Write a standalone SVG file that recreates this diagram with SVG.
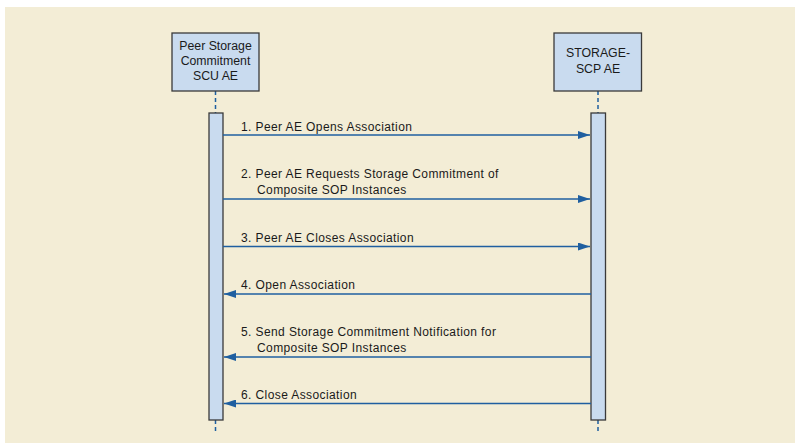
<svg xmlns="http://www.w3.org/2000/svg" width="795" height="443" viewBox="0 0 795 443">
<defs>
<style>
.bg{fill:#f3edd6}
.node rect{fill:#c9dbef;stroke:#3a3a3a;stroke-width:1.3}
.bar{fill:#c9dbef;stroke:#3a3a3a;stroke-width:1.3}
.life{stroke:#1f5fa0;stroke-width:1.5;stroke-dasharray:4,3;fill:none}
.msg{stroke:#1f5fa0;stroke-width:1.5;fill:none}
.nt{font-family:"Liberation Sans",Arial,sans-serif;font-size:12.3px;fill:#1a1a1a;text-anchor:middle}
.lt{font-family:"Liberation Sans",Arial,sans-serif;font-size:12px;letter-spacing:0.4px;fill:#1a1a1a}
</style>
<marker id="ah" viewBox="0 0 12 8" refX="12" refY="4" markerWidth="12" markerHeight="8" markerUnits="userSpaceOnUse" orient="auto">
<path d="M0,0 L12,4 L0,8 Z" fill="#1f5fa0"/>
</marker>
</defs>
<rect class="bg" x="5" y="7" width="790" height="436"/>
<g id="lifelines">
<line class="life" x1="215.5" y1="91" x2="215.5" y2="113"/>
<line class="life" x1="215.5" y1="420" x2="215.5" y2="432"/>
<line class="life" x1="598" y1="91" x2="598" y2="113"/>
<line class="life" x1="598" y1="420" x2="598" y2="432"/>
</g>
<g id="scu">
<g class="node"><rect x="172" y="33" width="87" height="58"/></g>
<text class="nt" x="215.5" y="50">Peer Storage</text>
<text class="nt" x="215.5" y="65">Commitment</text>
<text class="nt" x="215.5" y="80">SCU AE</text>
<rect class="bar" x="209" y="113" width="14" height="307"/>
</g>
<g id="scp">
<g class="node"><rect x="554" y="33" width="87.5" height="58"/></g>
<text class="nt" x="598" y="57">STORAGE-</text>
<text class="nt" x="598" y="73">SCP AE</text>
<rect class="bar" x="591" y="113" width="14.5" height="307"/>
</g>
<g id="connectors">
<line class="msg" x1="223" y1="135" x2="590" y2="135" marker-end="url(#ah)"/>
<line class="msg" x1="223" y1="199" x2="590" y2="199" marker-end="url(#ah)"/>
<line class="msg" x1="223" y1="246.5" x2="590" y2="246.5" marker-end="url(#ah)"/>
<line class="msg" x1="591" y1="294" x2="224" y2="294" marker-end="url(#ah)"/>
<line class="msg" x1="591" y1="357" x2="224" y2="357" marker-end="url(#ah)"/>
<line class="msg" x1="591" y1="403.5" x2="224" y2="403.5" marker-end="url(#ah)"/>
</g>
<g id="labels">
<text class="lt" x="241" y="131">1. Peer AE Opens Association</text>
<text class="lt" x="241" y="178">2. Peer AE Requests Storage Commitment of</text>
<text class="lt" x="257" y="193.5">Composite SOP Instances</text>
<text class="lt" x="241" y="242">3. Peer AE Closes Association</text>
<text class="lt" x="241" y="289">4. Open Association</text>
<text class="lt" x="241" y="336">5. Send Storage Commitment Notification for</text>
<text class="lt" x="257" y="351.5">Composite SOP Instances</text>
<text class="lt" x="241" y="398.5">6. Close Association</text>
</g>
</svg>
